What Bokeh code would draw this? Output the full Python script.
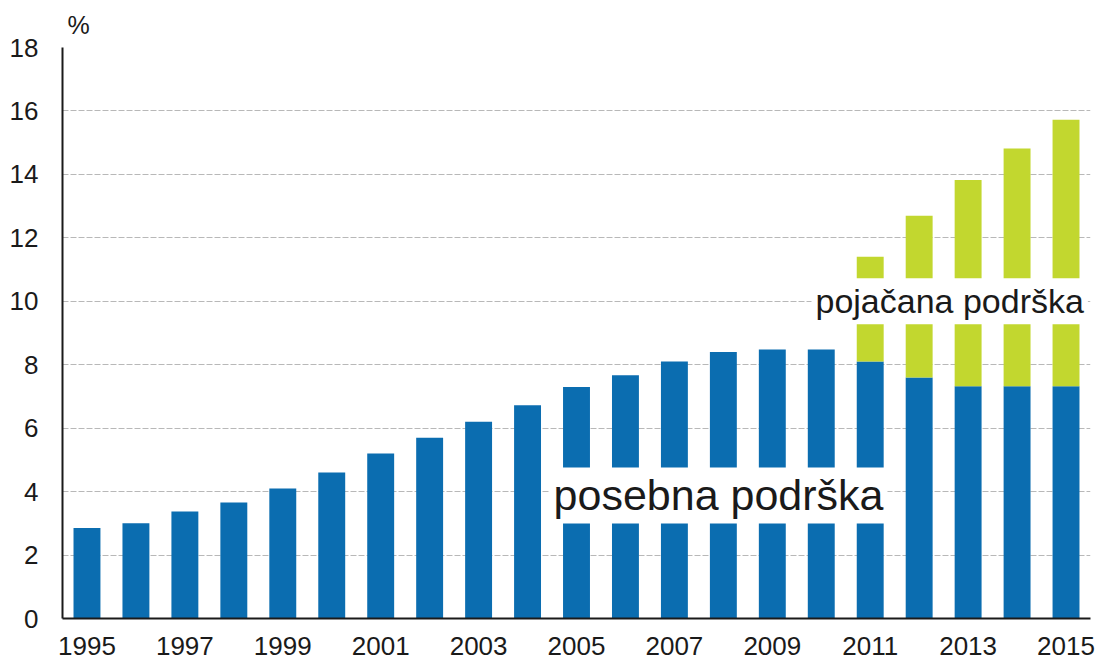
from bokeh.plotting import figure
from bokeh.models import ColumnDataSource, FixedTicker, Label, Range1d
from bokeh.embed import file_html
from bokeh.resources import INLINE

# ---- data ----
years = list(range(1995, 2016))
posebna = [2.85, 3.0, 3.37, 3.66, 4.1, 4.6, 5.2, 5.7, 6.2, 6.72, 7.3,
           7.67, 8.1, 8.4, 8.48, 8.48, 8.1, 7.6, 7.32, 7.32, 7.32]
years_pojacana = [2011, 2012, 2013, 2014, 2015]
pojacana = [3.3, 5.1, 6.5, 7.5, 8.4]
tick_years = years[::2]
y_ticks = list(range(0, 19, 2))

label_posebna = "posebna podrška"
label_pojacana = "pojačana podrška"
unit_label = "%"

BLUE = "#0b6db0"
GREEN = "#c2d72f"
FONT = "Liberation Sans"

base = dict(zip(years, posebna))
src_blue = ColumnDataSource(dict(x=years, top=posebna))
src_green = ColumnDataSource(dict(
    x=years_pojacana,
    bottom=[base[y] for y in years_pojacana],
    top=[base[y] + v for y, v in zip(years_pojacana, pojacana)],
))

p = figure(width=1106, height=662, output_backend="svg", toolbar_location=None,
           x_range=Range1d(1994.5, 2015.5), y_range=Range1d(0, 18),
           min_border_left=62, min_border_top=47, min_border_right=16, min_border_bottom=44,
           title=unit_label)
p.outline_line_color = None
p.background_fill_color = "white"

p.title.align = "left"
p.title.offset = 5
p.title.standoff = 17
p.title.text_font = FONT
p.title.text_font_size = "25px"
p.title.text_font_style = "normal"
p.title.text_color = "#1a1a1a"

p.vbar(x="x", top="top", bottom=0, width=0.55, source=src_blue,
       fill_color=BLUE, line_color=None)
p.vbar(x="x", top="top", bottom="bottom", width=0.55, source=src_green,
       fill_color=GREEN, line_color=None)

# axes
p.xaxis.ticker = FixedTicker(ticks=tick_years)
p.yaxis.ticker = FixedTicker(ticks=y_ticks)
for ax in (p.xaxis[0], p.yaxis[0]):
    ax.major_tick_line_color = None
    ax.minor_tick_line_color = None
    ax.axis_line_color = "#1a1a1a"
    ax.axis_line_width = 2
    ax.major_label_text_font = FONT
    ax.major_label_text_color = "#1a1a1a"
p.xaxis.major_label_text_font_size = "26px"
p.yaxis.major_label_text_font_size = "26px"
p.xaxis.major_label_standoff = 12
p.yaxis.major_label_standoff = 18

p.xgrid.grid_line_color = None
p.ygrid.ticker = FixedTicker(ticks=y_ticks)
p.ygrid.grid_line_color = "#b8b8b8"
p.ygrid.grid_line_dash = "6 2"
p.ygrid.grid_line_width = 1

# labels
p.add_layout(Label(x=2004.45, y=3.88, text=label_posebna, text_font=FONT,
                   text_font_size="43px", text_color="#1a1a1a",
                   text_baseline="middle", text_align="left",
                   background_fill_color="white", padding=4))
p.add_layout(Label(x=2009.8, y=10.0, text=label_pojacana, text_font=FONT,
                   text_font_size="34px", text_color="#1a1a1a",
                   text_baseline="middle", text_align="left",
                   background_fill_color="white", padding=4))

open("out.html", "w").write(file_html(p, INLINE))
